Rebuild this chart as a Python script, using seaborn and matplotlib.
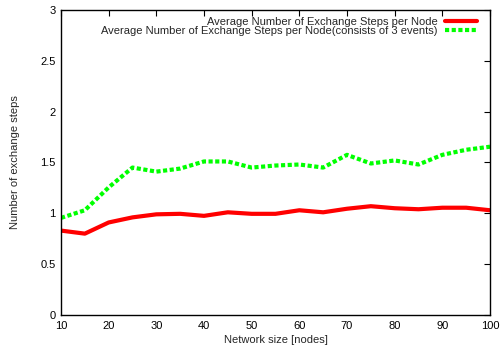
import seaborn as sns
import matplotlib.pyplot as plt
import pandas as pd

# network sizes and measured exchange steps
nodes = [10, 15, 20, 25, 30, 35, 40, 45, 50, 55, 60, 65, 70, 75, 80, 85, 90, 95, 100]
avg_steps = [0.83, 0.80, 0.91, 0.96, 0.99, 0.995, 0.975, 1.01, 0.995, 0.995, 1.03, 1.01,
             1.045, 1.07, 1.05, 1.04, 1.055, 1.055, 1.03]
avg_steps_3ev = [0.955, 1.03, 1.255, 1.45, 1.41, 1.44, 1.51, 1.51, 1.45, 1.47, 1.48, 1.45,
                 1.575, 1.49, 1.52, 1.48, 1.575, 1.625, 1.655]
label1 = "Average Number of Exchange Steps per Node"
label2 = "Average Number of Exchange Steps per Node(consists of 3 events)"

df = pd.DataFrame({"nodes": nodes, "a": avg_steps, "b": avg_steps_3ev})

sns.set_style("white")
plt.rcParams["font.family"] = ["Liberation Sans", "DejaVu Sans"]

fig = plt.figure(figsize=(5, 3.51), dpi=100)
ax = fig.add_axes([0.122, 0.1026, 0.858, 0.869])

sns.lineplot(data=df, x="nodes", y="a", color="#ff0000", lw=3, label=label1, ax=ax)
sns.lineplot(data=df, x="nodes", y="b", color="#00ff00", lw=3, linestyle=(0, (1, 0.6)),
             label=label2, ax=ax)

ax.set_xlim(10, 100)
ax.set_ylim(0, 3)
ax.set_xticks(range(10, 101, 10))
ax.set_yticks([0, 0.5, 1, 1.5, 2, 2.5, 3])
ax.set_yticklabels(["0", "0.5", "1", "1.5", "2", "2.5", "3"])
ax.tick_params(direction="in", length=4, width=0.8, top=True, right=True,
               labelsize=8, colors="black", pad=4)
for s in ax.spines.values():
    s.set_color("black")
    s.set_linewidth(1)
ax.set_xlabel("Network size [nodes]", fontsize=8, labelpad=3)
ax.set_ylabel("Number of exchange steps", fontsize=8, labelpad=14.4)

ax.legend(loc="upper right", bbox_to_anchor=(0.98, 0.993), frameon=False,
          markerfirst=False, fontsize=8, handlelength=2.85, handletextpad=0.72,
          borderaxespad=0, labelspacing=-0.05)

fig.savefig("out.png", dpi=100)
